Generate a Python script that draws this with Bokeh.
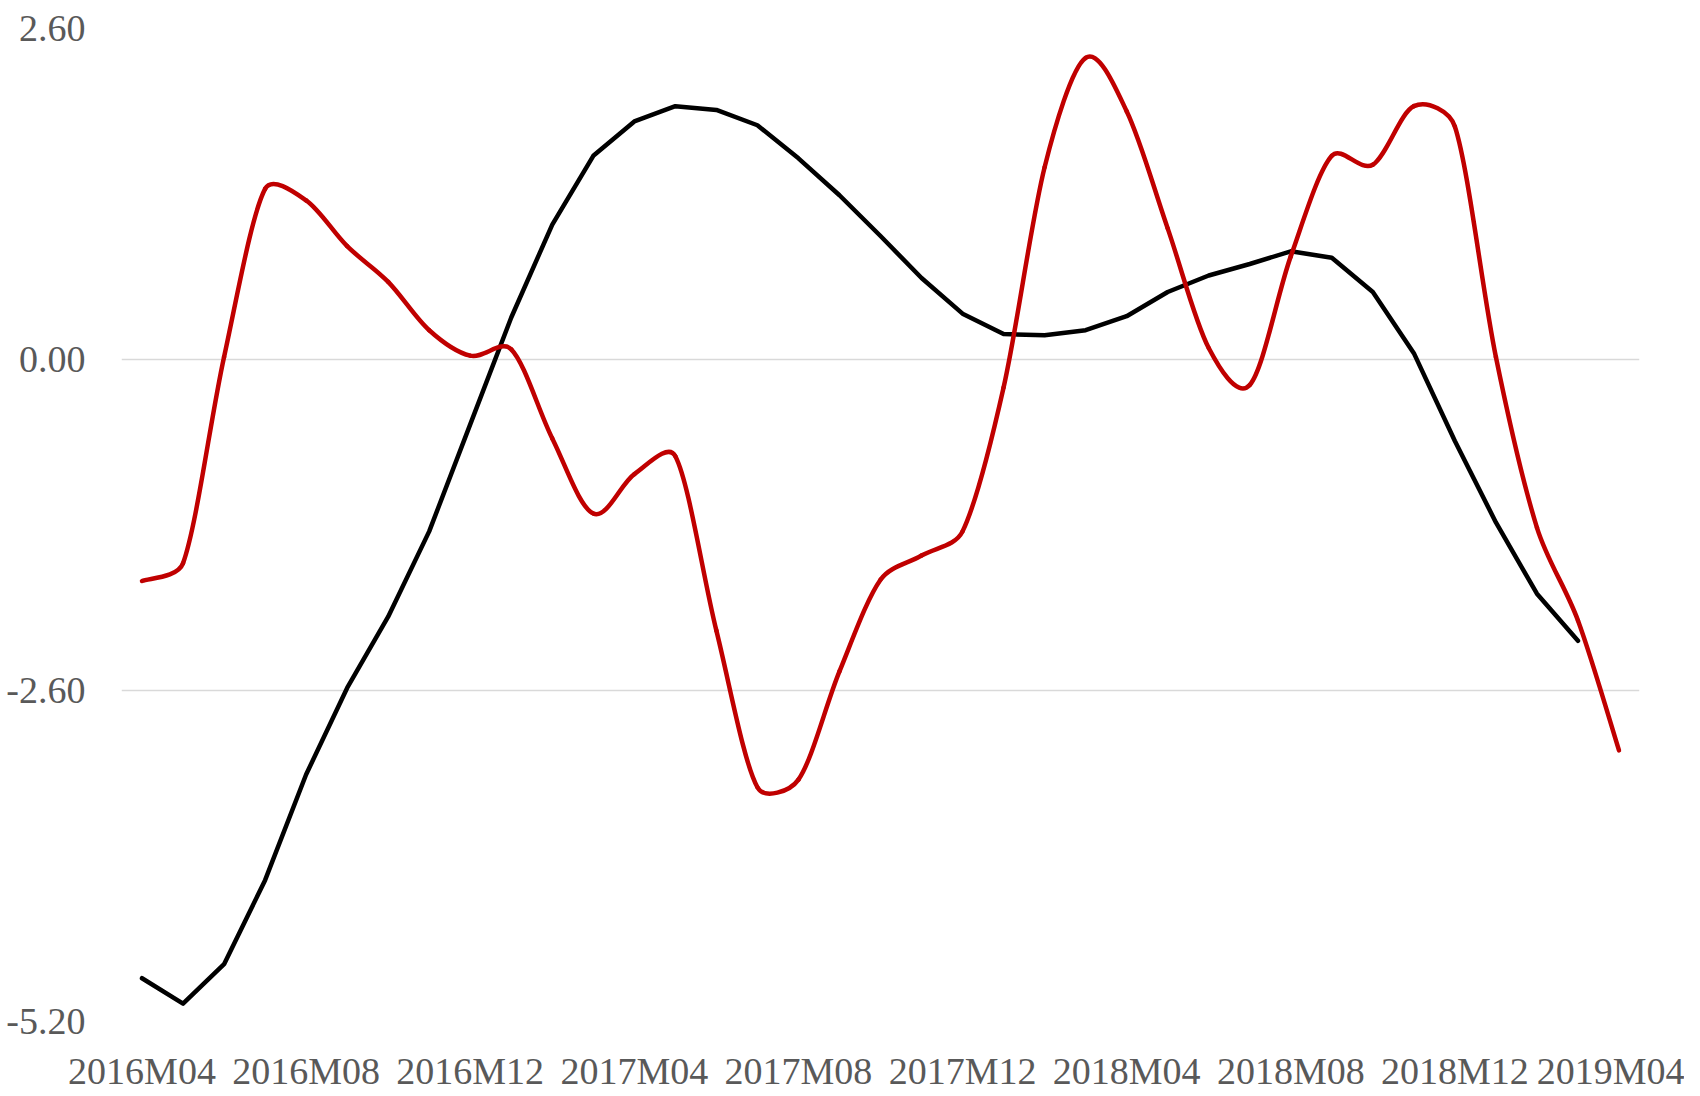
import numpy as np
from bokeh.plotting import figure
from bokeh.models import Range1d, FixedTicker, ColumnDataSource
from bokeh.embed import file_html
from bokeh.resources import INLINE

months = [
    "2016M04", "2016M05", "2016M06", "2016M07", "2016M08", "2016M09", "2016M10", "2016M11",
    "2016M12", "2017M01", "2017M02", "2017M03", "2017M04", "2017M05", "2017M06", "2017M07",
    "2017M08", "2017M09", "2017M10", "2017M11", "2017M12", "2018M01", "2018M02", "2018M03",
    "2018M04", "2018M05", "2018M06", "2018M07", "2018M08", "2018M09", "2018M10", "2018M11",
    "2018M12", "2019M01", "2019M02", "2019M03", "2019M04",
]

black_series = [
    -4.86, -5.06, -4.75, -4.09, -3.26, -2.58, -2.02, -1.35, -0.51, 0.33,
    1.06, 1.60, 1.87, 1.99, 1.96, 1.84, 1.58, 1.29, 0.97, 0.64,
    0.36, 0.20, 0.19, 0.23, 0.34, 0.53, 0.66, 0.75, 0.85, 0.80,
    0.53, 0.05, -0.64, -1.28, -1.84, -2.21,
]

red_series = [
    -1.74, -1.60, 0.02, 1.34, 1.25, 0.89, 0.61, 0.23, 0.03, 0.08,
    -0.62, -1.21, -0.90, -0.76, -2.13, -3.36, -3.30, -2.45, -1.73, -1.54,
    -1.35, -0.22, 1.51, 2.37, 1.95, 1.03, 0.09, -0.20, 0.81, 1.60,
    1.53, 1.99, 1.83, 0.02, -1.32, -2.05, -3.07,
]

x_tick_labels = ["2016M04", "2016M08", "2016M12", "2017M04", "2017M08",
                 "2017M12", "2018M04", "2018M08", "2018M12", "2019M04"]
y_ticks = [-5.2, -2.6, 0.0, 2.6]
y_tick_labels = ["-5.20", "-2.60", "0.00", "2.60"]

FONT = "Liberation Serif"
LABEL_COLOR = "#595959"

p = figure(width=1684, height=1094, output_backend="svg", toolbar_location=None,
           x_range=Range1d(-0.5, len(months) - 0.5), y_range=Range1d(-5.2, 2.6),
           min_border_left=121, min_border_right=45, min_border_top=28, min_border_bottom=72)
p.outline_line_color = None
p.background_fill_color = "white"
p.border_fill_color = "white"

# x axis
xpos = {m: i for i, m in enumerate(months)}
p.xaxis.ticker = FixedTicker(ticks=[xpos[m] for m in x_tick_labels])
p.xaxis.major_label_overrides = {xpos[m]: m for m in x_tick_labels}
p.xaxis.axis_line_color = None
p.xaxis.major_tick_line_color = None
p.xaxis.minor_tick_line_color = None
p.xaxis.major_tick_out = 0
p.xaxis.major_tick_in = 0
p.xaxis.minor_tick_out = 0
p.xaxis.major_label_text_font = FONT
p.xaxis.major_label_text_font_size = "38px"
p.xaxis.major_label_text_color = LABEL_COLOR
p.xaxis.major_label_standoff = 28
p.xgrid.grid_line_color = None

# y axis
p.yaxis.ticker = FixedTicker(ticks=y_ticks)
p.yaxis.major_label_overrides = {t: l for t, l in zip(y_ticks, y_tick_labels)}
p.yaxis.axis_line_color = None
p.yaxis.major_tick_line_color = None
p.yaxis.minor_tick_line_color = None
p.yaxis.major_tick_out = 0
p.yaxis.major_tick_in = 0
p.yaxis.minor_tick_out = 0
p.yaxis.major_label_text_font = FONT
p.yaxis.major_label_text_font_size = "38px"
p.yaxis.major_label_text_color = LABEL_COLOR
p.yaxis.major_label_standoff = 36
p.ygrid.ticker = FixedTicker(ticks=y_ticks)
p.ygrid.grid_line_color = "#d9d9d9"
p.ygrid.grid_line_width = 1.5

# black series: straight segments
bx = list(range(len(black_series)))
p.line(bx, black_series, line_color="#000000", line_width=4.5, line_join="round", line_cap="round")

# red series: smoothed line (Catmull-Rom style Bezier segments through the data points,
# control arms capped relative to the segment length, in screen proportions)
SX, SY = 41.0, 127.6   # approx. screen px per month / per unit, only for the curve shape
rx = np.arange(len(red_series), dtype=float)
ry = np.array(red_series, dtype=float)
n = len(ry)
px, py = rx * SX, ry * SY
vx, vy = np.zeros(n), np.zeros(n)   # tangent vectors (P[i+1]-P[i-1])/6
for i in range(n):
    a, b = max(i - 1, 0), min(i + 1, n - 1)
    vx[i], vy[i] = (px[b] - px[a]) / 6.0, (py[b] - py[a]) / 6.0
CAP = 0.35
x0, y0, x1, y1, cx0, cy0, cx1, cy1 = [], [], [], [], [], [], [], []
for i in range(n - 1):
    seg = np.hypot(px[i + 1] - px[i], py[i + 1] - py[i])
    def arm(j):
        L = np.hypot(vx[j], vy[j])
        s = min(1.0, CAP * seg / L) if L > 0 else 0.0
        return vx[j] * s, vy[j] * s
    ax0, ay0 = arm(i)
    ax1, ay1 = arm(i + 1)
    x0.append(rx[i]); y0.append(ry[i])
    x1.append(rx[i + 1]); y1.append(ry[i + 1])
    cx0.append((px[i] + ax0) / SX)
    cy0.append((py[i] + ay0) / SY)
    cx1.append((px[i + 1] - ax1) / SX)
    cy1.append((py[i + 1] - ay1) / SY)
src = ColumnDataSource(dict(x0=x0, y0=y0, x1=x1, y1=y1, cx0=cx0, cy0=cy0, cx1=cx1, cy1=cy1))
p.bezier(x0="x0", y0="y0", x1="x1", y1="y1", cx0="cx0", cy0="cy0", cx1="cx1", cy1="cy1",
         source=src, line_color="#C00000", line_width=4.5, line_cap="round")

open("out.html", "w").write(file_html(p, INLINE))
